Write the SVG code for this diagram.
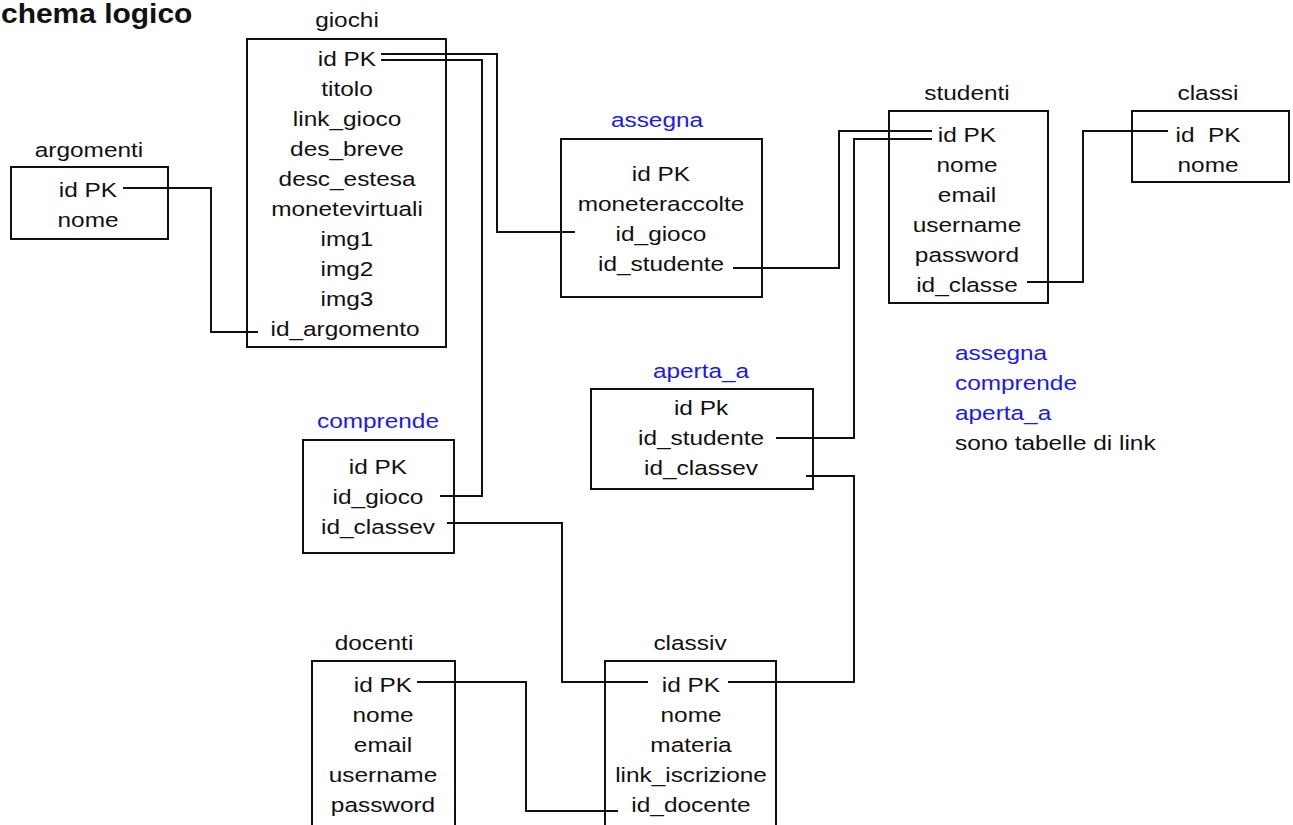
<svg xmlns="http://www.w3.org/2000/svg" width="1293" height="825" viewBox="0 0 1293 825">
<style>
text{font-family:"Liberation Sans",Arial,sans-serif;font-size:20.5px;fill:#111;text-anchor:middle}
.b{fill:#1a1aee}
.l{text-anchor:start}
.title{font-size:28px;font-weight:bold;text-anchor:start}
rect{fill:#fff;stroke:#111;stroke-width:2}
#connectors path{fill:none;stroke:#111;stroke-width:2}
</style>
<rect x="0" y="0" width="1293" height="825" style="stroke:none"/>
<text class="title" transform="translate(1,23) scale(1.07,1)">chema logico</text>

<g id="argomenti">
<text transform="translate(89,157) scale(1.19,1)">argomenti</text>
<rect x="11" y="167" width="157" height="72"/>
<text transform="translate(88,197) scale(1.19,1)">id PK</text>
<text transform="translate(88,227) scale(1.19,1)">nome</text>
</g>

<g id="giochi">
<text transform="translate(347,27) scale(1.19,1)">giochi</text>
<rect x="247" y="39" width="199" height="308"/>
<text transform="translate(347,66) scale(1.19,1)">id PK</text>
<text transform="translate(347,96) scale(1.19,1)">titolo</text>
<text transform="translate(347,126) scale(1.19,1)">link_gioco</text>
<text transform="translate(347,156) scale(1.19,1)">des_breve</text>
<text transform="translate(347,186) scale(1.19,1)">desc_estesa</text>
<text transform="translate(347,216) scale(1.19,1)">monetevirtuali</text>
<text transform="translate(347,246) scale(1.19,1)">img1</text>
<text transform="translate(347,276) scale(1.19,1)">img2</text>
<text transform="translate(347,306) scale(1.19,1)">img3</text>
<text transform="translate(345,336) scale(1.19,1)">id_argomento</text>
</g>

<g id="assegna">
<text class="b" transform="translate(657,127) scale(1.19,1)">assegna</text>
<rect x="561" y="139" width="201" height="158"/>
<text transform="translate(661,181) scale(1.19,1)">id PK</text>
<text transform="translate(661,211) scale(1.19,1)">moneteraccolte</text>
<text transform="translate(661,241) scale(1.19,1)">id_gioco</text>
<text transform="translate(661,271) scale(1.19,1)">id_studente</text>
</g>

<g id="studenti">
<text transform="translate(967,100) scale(1.19,1)">studenti</text>
<rect x="889" y="111" width="159" height="192"/>
<text transform="translate(967,142) scale(1.19,1)">id PK</text>
<text transform="translate(967,172) scale(1.19,1)">nome</text>
<text transform="translate(967,202) scale(1.19,1)">email</text>
<text transform="translate(967,232) scale(1.19,1)">username</text>
<text transform="translate(967,262) scale(1.19,1)">password</text>
<text transform="translate(967,292) scale(1.19,1)">id_classe</text>
</g>

<g id="classi">
<text transform="translate(1208,100) scale(1.19,1)">classi</text>
<rect x="1132" y="111" width="157" height="71"/>
<text transform="translate(1208,142) scale(1.19,1)" xml:space="preserve">id  PK</text>
<text transform="translate(1208,172) scale(1.19,1)">nome</text>
</g>

<g id="comprende">
<text class="b" transform="translate(378,428) scale(1.19,1)">comprende</text>
<rect x="303" y="440" width="151" height="113"/>
<text transform="translate(378,474) scale(1.19,1)">id PK</text>
<text transform="translate(378,504) scale(1.19,1)">id_gioco</text>
<text transform="translate(378,534) scale(1.19,1)">id_classev</text>
</g>

<g id="aperta_a">
<text class="b" transform="translate(701,378) scale(1.19,1)">aperta_a</text>
<rect x="591" y="389" width="222" height="100"/>
<text transform="translate(701,415) scale(1.19,1)">id Pk</text>
<text transform="translate(701,445) scale(1.19,1)">id_studente</text>
<text transform="translate(701,475) scale(1.19,1)">id_classev</text>
</g>

<g id="docenti">
<text transform="translate(374,650) scale(1.19,1)">docenti</text>
<rect x="312" y="661" width="143" height="175"/>
<text transform="translate(383,692) scale(1.19,1)">id PK</text>
<text transform="translate(383,722) scale(1.19,1)">nome</text>
<text transform="translate(383,752) scale(1.19,1)">email</text>
<text transform="translate(383,782) scale(1.19,1)">username</text>
<text transform="translate(383,812) scale(1.19,1)">password</text>
</g>

<g id="classiv">
<text transform="translate(690,650) scale(1.19,1)">classiv</text>
<rect x="605" y="661" width="171" height="175"/>
<text transform="translate(691,692) scale(1.19,1)">id PK</text>
<text transform="translate(691,722) scale(1.19,1)">nome</text>
<text transform="translate(691,752) scale(1.19,1)">materia</text>
<text transform="translate(691,782) scale(1.19,1)">link_iscrizione</text>
<text transform="translate(691,812) scale(1.19,1)">id_docente</text>
</g>

<g id="legenda">
<text class="b l" transform="translate(955,360) scale(1.19,1)">assegna</text>
<text class="b l" transform="translate(955,390) scale(1.19,1)">comprende</text>
<text class="b l" transform="translate(955,420) scale(1.19,1)">aperta_a</text>
<text class="l" transform="translate(955,450) scale(1.19,1)">sono tabelle di link</text>
</g>

<g id="connectors">
<path d="M123,188 H211 V332 H258"/>
<path d="M381,54 H497 V232 H575"/>
<path d="M381,60 H482 V496 H440"/>
<path d="M733,268 H839 V131 H932"/>
<path d="M932,139 H854 V438 H776"/>
<path d="M1027,282 H1083 V131 H1168"/>
<path d="M447,523 H562 V682 H648"/>
<path d="M806,476 H854 V682 H728"/>
<path d="M417,682 H526 V811 H618"/>
</g>
</svg>
